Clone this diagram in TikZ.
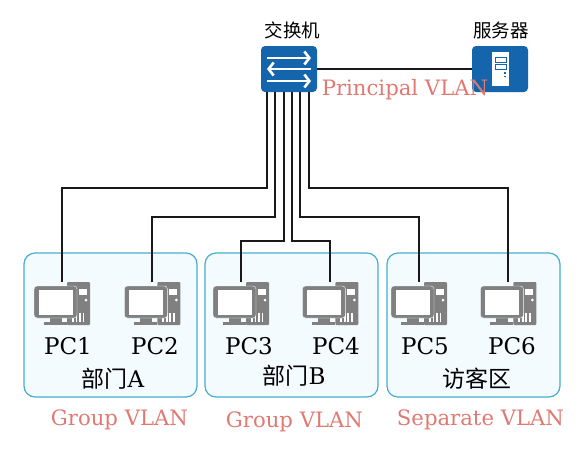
\documentclass[tikz,border=0pt]{standalone}
\usepackage{fontspec}
\setmainfont{DejaVu Serif}
\newfontfamily\cjk{Noto Sans CJK SC}
\usepackage{xcolor}
\usepackage{tikz}
\usetikzlibrary{arrows.meta,positioning}

\definecolor{swblue}{HTML}{1565AC}
\definecolor{vlanred}{HTML}{DE7A72}
\definecolor{pcgray}{HTML}{808080}
\definecolor{panelline}{HTML}{45ADD0}
\definecolor{panelfill}{HTML}{F4FBFF}

\begin{document}
\begin{tikzpicture}[
  x=1pt, y=-1pt,
  panel/.style={draw=panelline, line width=1.2pt, rounded corners=11pt, fill=panelfill,
                minimum width=173pt, minimum height=144pt},
  device/.style={rounded corners=4pt, fill=swblue, minimum width=56pt, minimum height=46pt,
                 inner sep=0pt},
  pcbox/.style={minimum width=56pt, minimum height=46pt, inner sep=0pt},
  link/.style={line width=2pt, black!90},
  swarr/.style={white, line width=2.6pt, -{Straight Barb[length=5pt,width=13pt,line width=2.6pt]}},
  vlan/.style={font=\fontsize{21.2}{24}\selectfont, text=vlanred, inner sep=0pt},
  pclab/.style={font=\fontsize{23}{26}\selectfont, inner sep=0pt},
  cjklab/.style={font=\cjk\fontsize{18.5}{22}\selectfont, inner sep=0pt},
  grplab/.style={font=\cjk\fontsize{23}{26}\selectfont, inner sep=0pt},
  pics/pcicon/.style={code={
    \fill[pcgray, rounded corners=1pt] (5,-23) rectangle (28,20);
    \fill[white] (17,-16) rectangle (25,-10);
    \fill[white] (24,-5) circle (1.5);
    \foreach \vx in {10,13.5,17,20.5} \fill[white] (\vx,8) rectangle ++(1.6,9);
    \fill[pcgray] (-18,17) rectangle (5,20);
    \fill[pcgray] (-12,12) rectangle (0,17);
    \fill[pcgray, draw=panelfill, rounded corners=3pt] (-28,-19) rectangle (15,13);
    \fill[white] (-23.5,-15.5) rectangle (10.5,9.5);
  }}
]
\useasboundingbox (0,0) rectangle (582,451);

% Panels
\node[panel] (depta) at (110.5,325) {};
\node[panel] (deptb) at (291.5,325) {};
\node[panel] (guest) at (473.5,325) {};

% Devices
\node[device] (switch) at (289,69) {};
\node[device] (server) at (500,69) {};

% PCs
\node[pcbox] (pc1) at (62,305) {};
\node[pcbox, right=34pt of pc1] (pc2) {};
\node[pcbox] (pc3) at (241,305) {};
\node[pcbox, right=33pt of pc3] (pc4) {};
\node[pcbox] (pc5) at (419,305) {};
\node[pcbox, right=33pt of pc5] (pc6) {};

% Ports under the switch
\coordinate (p1) at (267,92);
\coordinate (p2) at (275,92);
\coordinate (p3) at (284,92);
\coordinate (p4) at (292,92);
\coordinate (p5) at (300,92);
\coordinate (p6) at (309,92);

% Links
\draw[link] (switch) -- (server);
\draw[link] (p1) -- ++(0,96) -| (pc1.north);
\draw[link] (p2) -- ++(0,125) -| (pc2.north);
\draw[link] (p3) -- ++(0,149) -| (pc3.north);
\draw[link] (p4) -- ++(0,149) -| (pc4.north);
\draw[link] (p5) -- ++(0,125) -| (pc5.north);
\draw[link] (p6) -- ++(0,96) -| (pc6.north);

% Switch arrows
\draw[swarr] (267,58) -- (311,58);
\draw[swarr] (311,69) -- (267,69);
\draw[swarr] (267,81) -- (311,81);

% Server tower
\fill[white] (492,52) rectangle (509,86);
\draw[swblue, line width=1pt] (495,57) rectangle (506,62);
\draw[swblue, line width=1pt] (495,64) rectangle (506,69);
\fill[swblue] (503.5,72) rectangle (506,73.8);
\fill[swblue] (503.5,75.5) rectangle (506,77.3);

% PC icons
\foreach \n in {pc1,pc2,pc3,pc4,pc5,pc6}
  \pic at (\n) {pcicon};

% Labels
\node[cjklab] (swlab) at (292.5,30) {交换机};
\node[cjklab] (srvlab) at (501,30) {服务器};
\node[pclab] (lab1) at (68,346) {PC1};
\node[pclab] (lab2) at (155,346) {PC2};
\node[pclab] (lab3) at (249,346) {PC3};
\node[pclab] (lab4) at (336,346) {PC4};
\node[pclab] (lab5) at (425,346) {PC5};
\node[pclab] (lab6) at (512,346) {PC6};
\node[grplab] (laba) at (113,379) {部门{\rmfamily A}};
\node[grplab] (labb) at (294,376) {部门{\rmfamily B}};
\node[grplab] (labc) at (477,379) {访客区};
\node[vlan] (vprin) at (405,90) {Principal VLAN};
\node[vlan] (vgrpa) at (119.5,420) {Group VLAN};
\node[vlan] (vgrpb) at (294.5,422) {Group VLAN};
\node[vlan] (vsep) at (480.5,420) {Separate VLAN};
\end{tikzpicture}
\end{document}
